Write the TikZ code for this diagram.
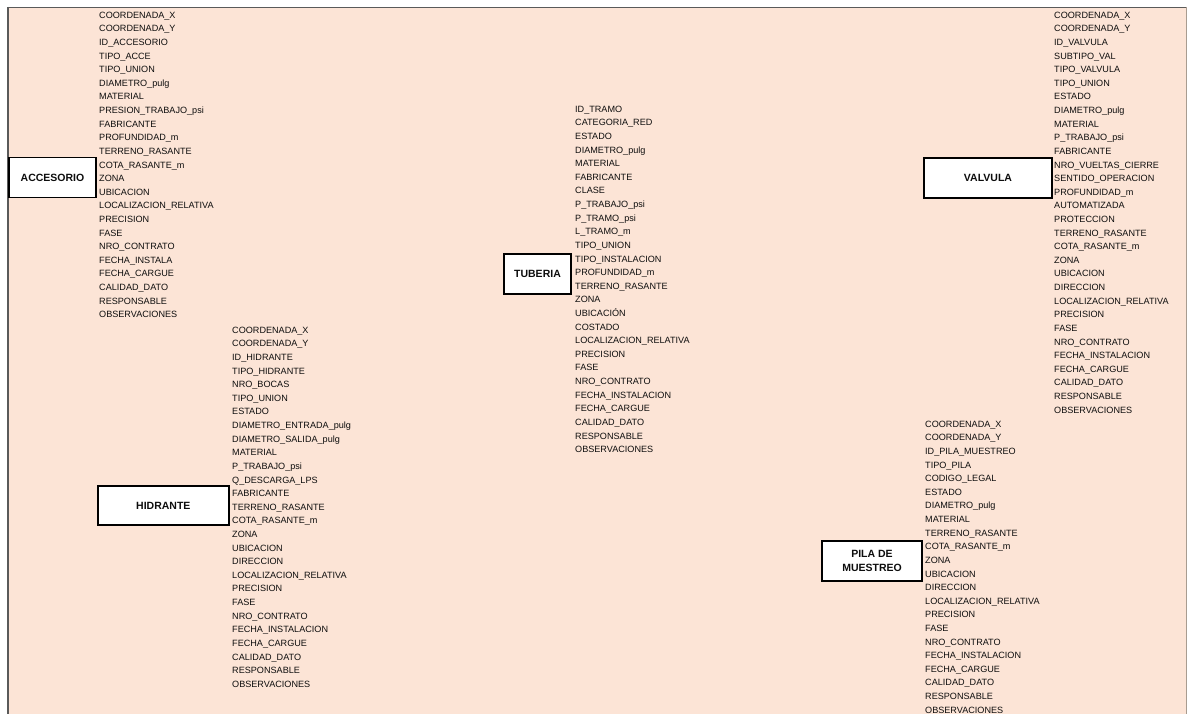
\documentclass[tikz,border=0pt]{standalone}
\usepackage{fontspec}
\setmainfont{Liberation Sans}
\definecolor{peach}{HTML}{FCE4D6}
\definecolor{frameL}{HTML}{5A5A5A}
\definecolor{frameR}{HTML}{A89C90}
\definecolor{txt}{HTML}{0D0D0D}
\tikzset{
  field/.style={anchor=base west, inner sep=0pt, text=txt, font=\fontsize{9.1}{10}\selectfont},
  entity/.style={draw=black, line width=1.6pt, fill=white, inner sep=0pt, align=center,
    font=\fontsize{10.5}{13.3}\selectfont\bfseries, text=txt},
}
\newcommand{\fieldlist}[4]{%
  \foreach \t [count=\i] in {#4} {
    \node[field] (#1-\i) at (#2, {#3 + (\i-1)*13.62 + 3.2}) {\t};
  }%
}
\begin{document}
\begin{tikzpicture}[x=1pt,y=-1pt]
\useasboundingbox (0,0) rectangle (1187,714);
\fill[white] (0,0) rectangle (1187,714);
\fill[peach] (8,7) rectangle (1186,714);
\draw[frameL, line width=1.3pt] (8,7.2) -- (1186,7.2);
\draw[frameL, line width=2pt] (8,7) -- (8,714);
\draw[frameR, line width=1pt] (1186,7) -- (1186,714);

% ACCESORIO
\node[entity, minimum width=87pt, minimum height=40pt] (accesorio) at (52.5,177.7) {ACCESORIO};
\fieldlist{acc}{99}{15}{COORDENADA\_X,COORDENADA\_Y,ID\_ACCESORIO,TIPO\_ACCE,TIPO\_UNION,DIAMETRO\_pulg,MATERIAL,PRESION\_TRABAJO\_psi,FABRICANTE,PROFUNDIDAD\_m,TERRENO\_RASANTE,COTA\_RASANTE\_m,ZONA,UBICACION,LOCALIZACION\_RELATIVA,PRECISION,FASE,NRO\_CONTRATO,FECHA\_INSTALA,FECHA\_CARGUE,CALIDAD\_DATO,RESPONSABLE,OBSERVACIONES}

% HIDRANTE
\node[entity, minimum width=131pt, minimum height=39.5pt] (hidrante) at (163.3,505.5) {HIDRANTE};
\fieldlist{hid}{232}{330}{COORDENADA\_X,COORDENADA\_Y,ID\_HIDRANTE,TIPO\_HIDRANTE,NRO\_BOCAS,TIPO\_UNION,ESTADO,DIAMETRO\_ENTRADA\_pulg,DIAMETRO\_SALIDA\_pulg,MATERIAL,P\_TRABAJO\_psi,Q\_DESCARGA\_LPS,FABRICANTE,TERRENO\_RASANTE,COTA\_RASANTE\_m,ZONA,UBICACION,DIRECCION,LOCALIZACION\_RELATIVA,PRECISION,FASE,NRO\_CONTRATO,FECHA\_INSTALACION,FECHA\_CARGUE,CALIDAD\_DATO,RESPONSABLE,OBSERVACIONES}

% TUBERIA
\node[entity, minimum width=67.5pt, minimum height=40.5pt] (tuberia) at (537.5,274) {TUBERIA};
\fieldlist{tub}{575}{109}{ID\_TRAMO,CATEGORIA\_RED,ESTADO,DIAMETRO\_pulg,MATERIAL,FABRICANTE,CLASE,P\_TRABAJO\_psi,P\_TRAMO\_psi,L\_TRAMO\_m,TIPO\_UNION,TIPO\_INSTALACION,PROFUNDIDAD\_m,TERRENO\_RASANTE,ZONA,UBICACIÓN,COSTADO,LOCALIZACION\_RELATIVA,PRECISION,FASE,NRO\_CONTRATO,FECHA\_INSTALACION,FECHA\_CARGUE,CALIDAD\_DATO,RESPONSABLE,OBSERVACIONES}

% VALVULA
\node[entity, minimum width=128.5pt, minimum height=40.5pt] (valvula) at (988,178) {VALVULA};
\fieldlist{val}{1054}{15}{COORDENADA\_X,COORDENADA\_Y,ID\_VALVULA,SUBTIPO\_VAL,TIPO\_VALVULA,TIPO\_UNION,ESTADO,DIAMETRO\_pulg,MATERIAL,P\_TRABAJO\_psi,FABRICANTE,NRO\_VUELTAS\_CIERRE,SENTIDO\_OPERACION,PROFUNDIDAD\_m,AUTOMATIZADA,PROTECCION,TERRENO\_RASANTE,COTA\_RASANTE\_m,ZONA,UBICACION,DIRECCION,LOCALIZACION\_RELATIVA,PRECISION,FASE,NRO\_CONTRATO,FECHA\_INSTALACION,FECHA\_CARGUE,CALIDAD\_DATO,RESPONSABLE,OBSERVACIONES}

% PILA DE MUESTREO
\node[entity, minimum width=100.5pt, minimum height=40.5pt] (pila) at (872,561) {PILA DE\\MUESTREO};
\fieldlist{pil}{925}{424}{COORDENADA\_X,COORDENADA\_Y,ID\_PILA\_MUESTREO,TIPO\_PILA,CODIGO\_LEGAL,ESTADO,DIAMETRO\_pulg,MATERIAL,TERRENO\_RASANTE,COTA\_RASANTE\_m,ZONA,UBICACION,DIRECCION,LOCALIZACION\_RELATIVA,PRECISION,FASE,NRO\_CONTRATO,FECHA\_INSTALACION,FECHA\_CARGUE,CALIDAD\_DATO,RESPONSABLE,OBSERVACIONES}
\end{tikzpicture}
\end{document}
